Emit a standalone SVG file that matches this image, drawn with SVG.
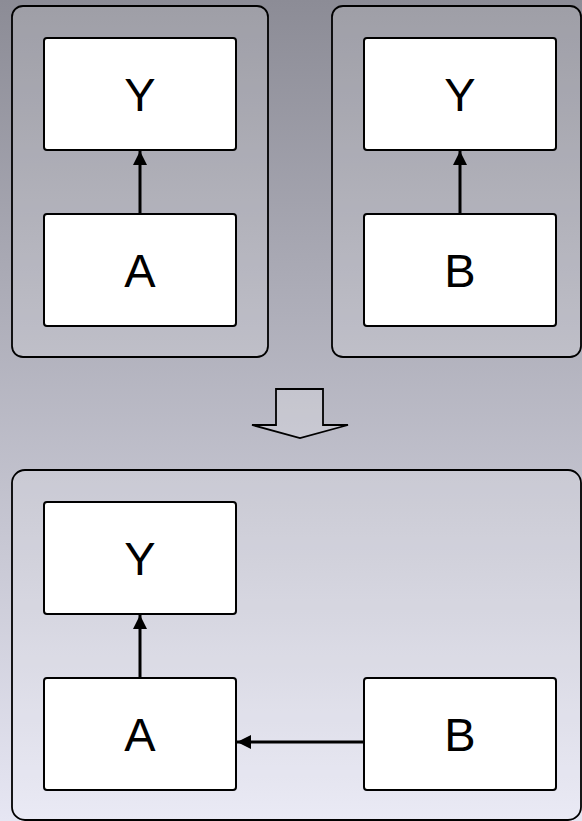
<svg xmlns="http://www.w3.org/2000/svg" width="582" height="821" viewBox="0 0 582 821">
<defs>
<linearGradient id="bg" x1="0" y1="0" x2="0" y2="1">
<stop offset="0" stop-color="#8c8c96"/>
<stop offset="1" stop-color="#e6e6f3"/>
</linearGradient>
<marker id="ah" markerWidth="16" markerHeight="16" viewBox="0 0 16 16" refX="15" refY="8" orient="auto" markerUnits="userSpaceOnUse">
<path d="M1,1 L15,8 L1,15 Z" fill="#000"/>
</marker>
<style>
.cont{fill:#ffffff;fill-opacity:0.16;stroke:#000;stroke-width:1.8}
.node{fill:#fff;stroke:#000;stroke-width:2}
.lbl{font-family:"Liberation Sans",Arial,sans-serif;font-size:47px;text-anchor:middle;fill:#000}
.edge{stroke:#000;stroke-width:3;fill:none;marker-end:url(#ah)}
</style>
</defs>
<rect x="0" y="0" width="582" height="821" fill="url(#bg)"/>
<g id="containers">
<rect id="c1" class="cont" x="12" y="6" width="256" height="351" rx="11"/>
<rect id="c2" class="cont" x="332" y="6" width="249" height="351" rx="11"/>
<rect id="c3" class="cont" x="12" y="470" width="569" height="350" rx="13"/>
</g>
<path id="transform-arrow" d="M276,389 L323,389 L323,425 L348,425 L300,438 L252,425 L276,425 Z" fill="#fff" fill-opacity="0.2" stroke="#000" stroke-width="1.8" stroke-linejoin="miter"/>
<g id="connectors">
<line class="edge" x1="140" y1="214" x2="140" y2="151"/>
<line class="edge" x1="460" y1="214" x2="460" y2="151"/>
<line class="edge" x1="140" y1="678" x2="140" y2="615"/>
<line class="edge" x1="364" y1="742" x2="237" y2="742"/>
</g>
<g id="n1"><rect class="node" x="44" y="38" width="192" height="112" rx="3"/><text class="lbl" x="140" y="111">Y</text></g>
<g id="n2"><rect class="node" x="44" y="214" width="192" height="112" rx="3"/><text class="lbl" x="140" y="287">A</text></g>
<g id="n3"><rect class="node" x="364" y="38" width="192" height="112" rx="3"/><text class="lbl" x="460" y="111">Y</text></g>
<g id="n4"><rect class="node" x="364" y="214" width="192" height="112" rx="3"/><text class="lbl" x="460" y="287">B</text></g>
<g id="n5"><rect class="node" x="44" y="502" width="192" height="112" rx="3"/><text class="lbl" x="140" y="575">Y</text></g>
<g id="n6"><rect class="node" x="44" y="678" width="192" height="112" rx="3"/><text class="lbl" x="140" y="751">A</text></g>
<g id="n7"><rect class="node" x="364" y="678" width="192" height="112" rx="3"/><text class="lbl" x="460" y="751">B</text></g>
</svg>
